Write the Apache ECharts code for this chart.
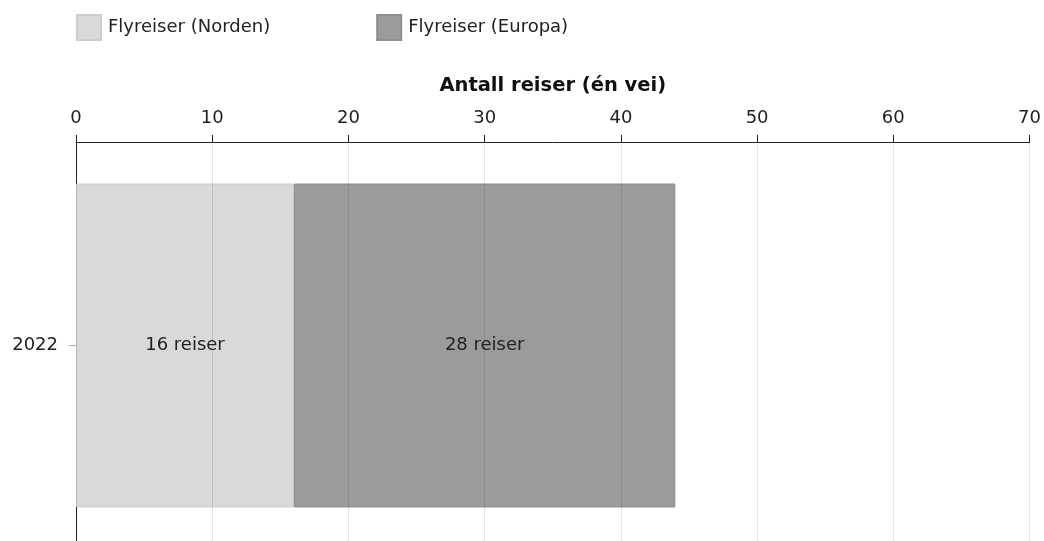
<!DOCTYPE html>
<html><head><meta charset="utf-8">
<script src="https://cdn.jsdelivr.net/npm/echarts@6/dist/echarts.min.js"></script>
<style>html,body{margin:0;padding:0;background:#fff;overflow:hidden}#c{width:1044px;height:549px}</style>
</head><body><div id="c"></div>
<script>
const categories = ['2022'];
const norden = [16];
const europa = [28];
const xTicks = [0, 10, 20, 30, 40, 50, 60, 70];
const seriesNames = ['Flyreiser (Norden)', 'Flyreiser (Europa)'];
const font = '"DejaVu Sans", Verdana, sans-serif';
const fs = 18;
const chart = echarts.init(document.getElementById('c'));
chart.setOption({
  animation: false,
  textStyle: { fontFamily: font },
  legend: {
    left: 76, top: 14, padding: 0, itemWidth: 24, itemHeight: 25, itemGap: 106,
    icon: 'rect',
    textStyle: { fontFamily: font, fontSize: fs, color: '#222', padding: [0, 0, 0, 2] },
    data: seriesNames
  },
  grid: { left: 76, top: 142, right: 13, bottom: 0 },
  xAxis: {
    type: 'value', position: 'top', min: xTicks[0], max: xTicks[xTicks.length - 1], interval: 10,
    z: 5,
    name: 'Antall reiser (én vei)', nameLocation: 'middle', nameGap: 46,
    nameTextStyle: { fontFamily: font, fontSize: 19.5, fontWeight: 'bold', color: '#111' },
    axisLine: { show: true, lineStyle: { color: '#222', width: 1 } },
    axisTick: { show: true, length: 7, lineStyle: { color: '#222' } },
    axisLabel: { fontFamily: font, fontSize: fs, color: '#222', margin: 15 },
    splitLine: { show: true, lineStyle: { color: 'rgba(0,0,0,0.1)', width: 1 } }
  },
  yAxis: {
    type: 'category', data: categories, inverse: true,
    axisLine: { show: true, lineStyle: { color: '#222', width: 1 } },
    axisTick: { show: true, alignWithLabel: true, length: 7, lineStyle: { color: '#aaa' } },
    axisLabel: { fontFamily: font, fontSize: fs, color: '#222', margin: 18 }
  },
  series: [
    {
      name: seriesNames[0], type: 'bar', stack: 'a', data: norden, barWidth: 324,
      itemStyle: { color: '#d9d9d9', borderColor: '#cdcdcd', borderWidth: 1 },
      label: { show: true, position: 'inside', formatter: p => p.value + ' reiser', fontFamily: font, fontSize: fs, color: '#222' }
    },
    {
      name: seriesNames[1], type: 'bar', stack: 'a', data: europa, barWidth: 324,
      itemStyle: { color: '#9b9b9b', borderColor: '#8f8f8f', borderWidth: 1 },
      label: { show: true, position: 'inside', formatter: p => p.value + ' reiser', fontFamily: font, fontSize: fs, color: '#222' }
    }
  ]
});
</script></body></html>
